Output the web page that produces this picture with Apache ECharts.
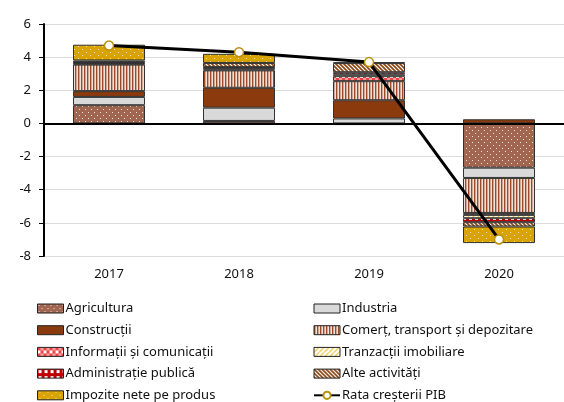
<!DOCTYPE html>
<html>
<head>
<meta charset="utf-8">
<script src="https://cdn.jsdelivr.net/npm/echarts@6/dist/echarts.min.js"></script>
<style>
  html, body { margin: 0; padding: 0; background: #fff; }
  #chart { width: 564px; height: 402px; }
</style>
</head>
<body>
<div id="chart"></div>
<script>
const years = ['2017', '2018', '2019', '2020']
const yTicks = [-8, -6, -4, -2, 0, 2, 4, 6]

const agricultura = [1.1, 0.15, -0.1, -2.67]
const industria = [0.5, 0.8, 0.3, -0.62]
const constructii = [0.35, 1.2, 1.1, 0.25]
const comert = [1.6, 1.05, 1.15, -2.11]
const informatii = [0.05, 0.05, 0.3, -0.12]
const tranzactii = [0.05, 0.1, 0.12, -0.2]
const administratie = [0.05, 0.05, 0.12, -0.24]
const alte = [0.1, 0.25, 0.55, -0.26]
const impozite = [0.95, 0.55, 0.05, -1.0]
const pib = [4.7, 4.3, 3.7, -7.0]

// small canvas tiles used as fill patterns
const tile = (w, h, draw) => {
  const c = document.createElement('canvas')
  c.width = w
  c.height = h
  draw(c.getContext('2d'))
  return { image: c, repeat: 'repeat' }
}

const patAgri = tile(6, 6, g => {
  g.fillStyle = '#a2654f'; g.fillRect(0, 0, 6, 6)
  g.fillStyle = '#f2e4de'; g.fillRect(1, 1, 1, 1); g.fillRect(4, 4, 1, 1)
})
const patComert = tile(3, 3, g => {
  g.fillStyle = '#f0e2da'; g.fillRect(0, 0, 3, 3)
  g.fillStyle = '#9c4a2a'; g.fillRect(0, 0, 1, 3)
  g.fillStyle = '#cfa797'; g.fillRect(1, 0, 1, 3)
})
const patInfo = tile(6, 6, g => {
  g.fillStyle = '#ffffff'; g.fillRect(0, 0, 6, 6)
  g.fillStyle = '#ee4444'; g.fillRect(0, 0, 3, 3); g.fillRect(3, 3, 3, 3)
  g.fillStyle = '#f8a0a0'; g.fillRect(3, 0, 3, 3)
})
const patTranz = tile(5, 5, g => {
  g.fillStyle = '#ffffff'; g.fillRect(0, 0, 5, 5)
  g.strokeStyle = '#f0c030'; g.lineWidth = 1.2
  g.beginPath(); g.moveTo(0, 5); g.lineTo(5, 0); g.stroke()
})
const patAdmin = tile(6, 6, g => {
  g.fillStyle = '#c00000'; g.fillRect(0, 0, 6, 6)
  g.fillStyle = '#ffffff'; g.fillRect(1, 1, 3, 3)
})
const patAlte = tile(4, 4, g => {
  g.fillStyle = '#ffffff'; g.fillRect(0, 0, 4, 4)
  g.strokeStyle = '#8b4513'; g.lineWidth = 1.6
  g.beginPath(); g.moveTo(0, 0); g.lineTo(4, 4); g.stroke()
  g.beginPath(); g.moveTo(-2, 2); g.lineTo(2, 6); g.stroke()
  g.beginPath(); g.moveTo(2, -2); g.lineTo(6, 2); g.stroke()
})
const patImpozite = tile(8, 6, g => {
  g.fillStyle = '#d9a300'; g.fillRect(0, 0, 8, 6)
  g.fillStyle = '#fbe9b0'; g.fillRect(2, 1, 1, 1); g.fillRect(6, 4, 1, 1)
})

const bar = (name, data, color) => ({
  name,
  type: 'bar',
  stack: 'total',
  barWidth: 72,
  data,
  itemStyle: { color, borderColor: '#333', borderWidth: 1 }
})

const chart = echarts.init(document.getElementById('chart'))

const font = '"Noto Sans", sans-serif'
const legendText = { color: '#111', fontSize: 13, lineHeight: 15, padding: [0, 0, 0, -3], fontFamily: font }
const rectItem = name => ({ name, icon: 'rect', itemStyle: { borderColor: '#222', borderWidth: 1 } })

chart.setOption({
  animation: false,
  textStyle: { fontFamily: font },
  grid: { left: 44, right: 0, top: 24, bottom: 146 },
  xAxis: {
    type: 'category',
    data: years,
    axisLine: { show: false },
    axisTick: { show: false },
    axisLabel: { color: '#111', fontSize: 13, margin: 12, fontFamily: font }
  },
  yAxis: {
    type: 'value',
    min: -8,
    max: 6,
    interval: 2,
    axisLine: { show: true, lineStyle: { color: '#000', width: 2 } },
    axisTick: { show: true, length: 5, lineStyle: { color: '#000', width: 1 } },
    axisLabel: {
      color: '#111', fontSize: 13, margin: 13, fontFamily: font,
      formatter: v => yTicks.includes(v) ? String(v) : ''
    },
    splitLine: { lineStyle: { color: '#dddddd', width: 1 } }
  },
  legend: [
    {
      left: 37, top: 301, height: 110, padding: 0, orient: 'vertical',
      itemWidth: 26, itemHeight: 9, itemGap: 6.7,
      textStyle: legendText,
      data: ['Agricultura', 'Construcții', 'Informații și comunicații', 'Administrație publică', 'Impozite nete pe produs'].map(rectItem)
    },
    {
      left: 313, top: 301, height: 110, padding: 0, orient: 'vertical',
      itemWidth: 26, itemHeight: 9, itemGap: 6.7,
      textStyle: legendText,
      data: ['Industria', 'Comerț, transport și depozitare', 'Tranzacții imobiliare', 'Alte activități'].map(rectItem)
        .concat([{ name: 'Rata creșterii PIB' }])
    }
  ],
  series: [
    bar('Agricultura', agricultura, patAgri),
    bar('Industria', industria, '#d9d9d9'),
    bar('Construcții', constructii, '#8b3a0e'),
    bar('Comerț, transport și depozitare', comert, patComert),
    bar('Informații și comunicații', informatii, patInfo),
    bar('Tranzacții imobiliare', tranzactii, patTranz),
    bar('Administrație publică', administratie, patAdmin),
    bar('Alte activități', alte, patAlte),
    bar('Impozite nete pe produs', impozite, patImpozite),
    {
      name: 'Rata creșterii PIB',
      type: 'line',
      data: pib,
      z: 5,
      symbol: 'circle',
      symbolSize: 9,
      lineStyle: { color: '#000', width: 3 },
      itemStyle: { color: '#ffffff', borderColor: '#b8920a', borderWidth: 1.5 },
      markLine: {
        silent: true,
        symbol: 'none',
        label: { show: false },
        lineStyle: { color: '#000', width: 2, type: 'solid' },
        data: [{ yAxis: 0 }]
      }
    }
  ]
})
</script>
</body>
</html>
